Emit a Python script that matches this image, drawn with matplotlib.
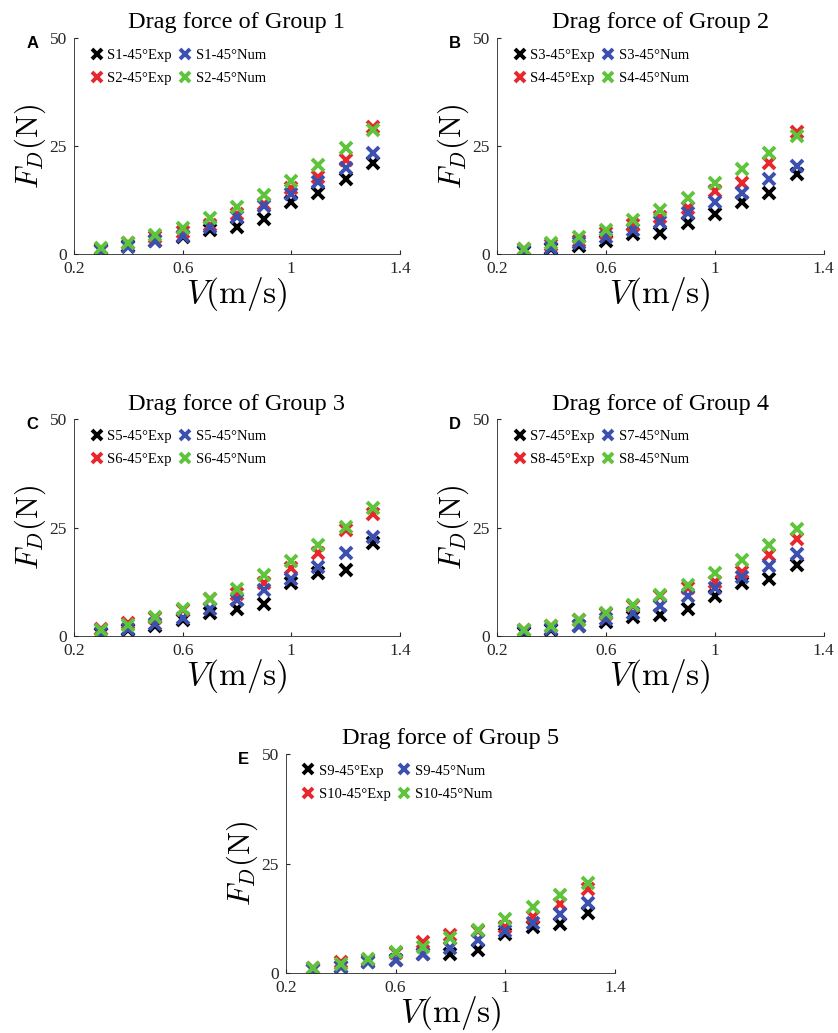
import numpy as np
import matplotlib
matplotlib.use('Agg')
import matplotlib.pyplot as plt

plt.rcParams['mathtext.fontset'] = 'cm'
plt.rcParams['font.family'] = 'Liberation Serif'

# velocidades (m/s)
V = [0.3, 0.4, 0.5, 0.6, 0.7, 0.8, 0.9, 1.0, 1.1, 1.2, 1.3]

# Grupo 1
s1_exp = [0.9, 1.9, 3.1, 3.9, 5.6, 6.3, 8.2, 12.1, 14.1, 17.3, 21.2]
s1_num = [0.8, 1.7, 3.1, 4.3, 6.2, 8.7, 11.1, 13.9, 16.8, 19.9, 23.5]
s2_exp = [1.3, 2.5, 3.9, 5.2, 6.7, 9.4, 11.6, 15.2, 17.9, 21.9, 29.4]
s2_num = [1.5, 2.6, 4.4, 6.0, 8.3, 11.0, 13.7, 17.0, 20.6, 24.5, 28.7]

# Grupo 2
s3_exp = [0.5, 1.1, 1.9, 3.1, 4.6, 4.9, 7.3, 9.3, 12.1, 14.1, 18.5]
s3_num = [0.8, 1.5, 2.5, 3.9, 5.7, 7.5, 9.6, 12.1, 14.2, 17.3, 20.4]
s4_exp = [1.1, 2.0, 3.1, 4.8, 6.7, 8.7, 10.6, 14.7, 16.5, 21.0, 28.3]
s4_num = [1.3, 2.6, 3.9, 5.7, 7.9, 10.2, 13.1, 16.4, 19.6, 23.5, 27.4]

# Grupo 3
s5_exp = [0.6, 1.5, 2.3, 3.7, 5.4, 6.2, 7.4, 12.2, 14.5, 15.4, 21.5]
s5_num = [0.8, 1.8, 2.8, 4.3, 6.4, 8.3, 10.6, 13.1, 16.0, 19.2, 22.8]
s6_exp = [1.8, 3.1, 4.3, 6.0, 8.7, 9.8, 12.3, 15.8, 19.2, 24.5, 28.3]
s6_num = [1.5, 2.5, 4.5, 6.2, 8.5, 11.0, 14.1, 17.3, 21.0, 25.2, 29.5]

# Grupo 4
s7_exp = [0.8, 1.5, 2.3, 3.2, 4.4, 5.0, 6.3, 9.3, 12.2, 13.1, 16.4]
s7_num = [0.9, 1.7, 2.4, 4.0, 5.3, 7.0, 9.2, 11.1, 13.6, 16.2, 18.9]
s8_exp = [1.4, 2.3, 3.7, 5.2, 7.0, 9.3, 11.1, 12.6, 14.9, 18.7, 22.5]
s8_num = [1.5, 2.4, 3.7, 5.3, 7.3, 9.5, 11.8, 14.7, 17.7, 21.0, 24.7]

# Grupo 5
s9_exp = [0.8, 1.5, 2.5, 3.1, 4.3, 4.3, 5.3, 8.9, 10.5, 11.3, 13.7]
s9_num = [0.8, 1.5, 2.5, 2.9, 4.3, 5.8, 7.6, 9.6, 11.5, 13.4, 15.9]
s10_exp = [1.2, 2.5, 3.1, 4.6, 7.1, 8.6, 9.6, 10.5, 12.7, 15.7, 19.1]
s10_num = [1.2, 2.0, 3.3, 4.8, 6.0, 7.9, 9.9, 12.4, 15.0, 17.8, 20.6]

cores = ['#000000', '#e8262b', '#3c50b0', '#5ec43c']


def plot_grupo(ax, n, letra, sa, sb, a_exp, a_num, b_exp, b_num):
    """Desenha um painel com as 4 series (ordem: exp A, exp B, num A, num B)"""
    series = [(a_exp, sa + '-45°Exp'), (b_exp, sb + '-45°Exp'),
              (a_num, sa + '-45°Num'), (b_num, sb + '-45°Num')]
    for (dados, nome), cor in zip(series, cores):
        ax.plot(V, dados, linestyle='none', marker='x', markersize=8.5,
                markeredgewidth=2.8, color=cor, label=nome)

    ax.set_xlim(0.2, 1.4)
    ax.set_ylim(0, 50)
    ax.set_xticks([0.2, 0.6, 1.0, 1.4])
    ax.set_xticklabels(['0.2', '0.6', '1', '1.4'])
    ax.set_yticks([0, 25, 50])
    ax.tick_params(direction='in', length=3, labelsize=12.5, colors='#262626', pad=5)
    for lado in ['top', 'right']:
        ax.spines[lado].set_visible(False)
    for lado in ['left', 'bottom']:
        ax.spines[lado].set_color('#262626')
        ax.spines[lado].set_linewidth(0.6)

    ax.set_title('Drag force of Group ' + str(n), fontsize=17.5, pad=7)
    ax.set_xlabel(r'$V(\mathrm{m/s})$', fontsize=24, labelpad=-1.5)
    ax.set_ylabel(r'$F_D(\mathrm{N})$', fontsize=22, labelpad=1)

    ax.legend(ncol=2, loc='upper left', frameon=False, fontsize=10.5,
              handlelength=0.8, handletextpad=0.35, columnspacing=0.5,
              labelspacing=0.7, borderaxespad=0.3, markerscale=0.8,
              bbox_to_anchor=(0.02, 1.0))

    ax.text(-0.128, 0.977, letra, transform=ax.transAxes, fontsize=12,
            fontweight='bold', family='Liberation Sans', ha='center', va='center')


fig = plt.figure(figsize=(8.38, 10.33), dpi=100)

axA = fig.add_axes([0.0883, 0.754, 0.389, 0.209])
axB = fig.add_axes([0.593, 0.754, 0.390, 0.209])
axC = fig.add_axes([0.0883, 0.384, 0.389, 0.210])
axD = fig.add_axes([0.593, 0.384, 0.390, 0.210])
axE = fig.add_axes([0.341, 0.058, 0.393, 0.212])

plot_grupo(axA, 1, 'A', 'S1', 'S2', s1_exp, s1_num, s2_exp, s2_num)
plot_grupo(axB, 2, 'B', 'S3', 'S4', s3_exp, s3_num, s4_exp, s4_num)
plot_grupo(axC, 3, 'C', 'S5', 'S6', s5_exp, s5_num, s6_exp, s6_num)
plot_grupo(axD, 4, 'D', 'S7', 'S8', s7_exp, s7_num, s8_exp, s8_num)
plot_grupo(axE, 5, 'E', 'S9', 'S10', s9_exp, s9_num, s10_exp, s10_num)

plt.savefig('out.png', dpi=100)
